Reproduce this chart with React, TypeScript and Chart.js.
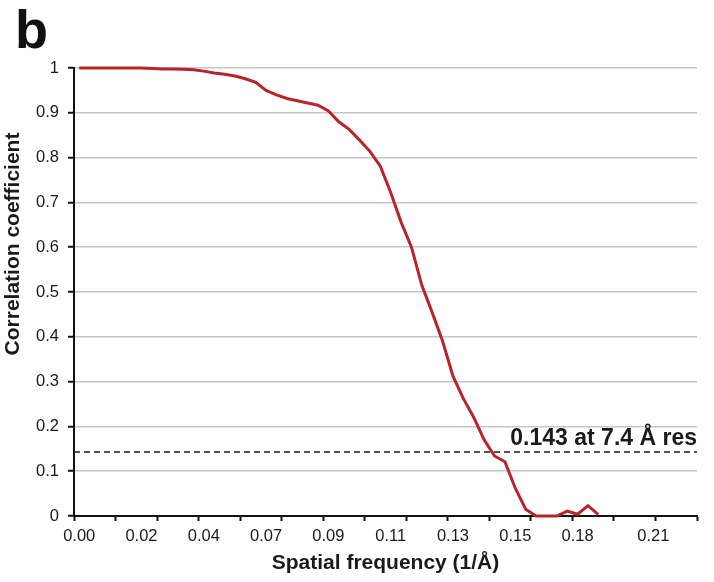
import { useEffect, useRef } from 'react';
import { Chart, registerables } from 'chart.js';

Chart.register(...registerables);

// Category (shell) index of each tick label and its spatial-frequency text
const frequencyLabels = ['0.00', '0.02', '0.04', '0.07', '0.09', '0.11', '0.13', '0.15', '0.18', '0.21'];
const labelIndex = [0, 6, 12, 18, 24, 30, 36, 42, 48, 55.3];

// Fourier shell correlation, one value per shell index 0..50
const correlation = [
  1.0, 1.0, 1.0, 1.0, 1.0, 1.0, 1.0, 0.999, 0.998, 0.998,
  0.997, 0.996, 0.993, 0.989, 0.986, 0.982, 0.976, 0.968, 0.95, 0.94,
  0.932, 0.927, 0.922, 0.917, 0.904, 0.88, 0.863, 0.839, 0.814, 0.781,
  0.722, 0.656, 0.6, 0.515, 0.454, 0.39, 0.312, 0.262, 0.22, 0.17,
  0.134, 0.121, 0.062, 0.015, 0.0, 0.0, 0.0, 0.011, 0.004, 0.023,
  0.003,
];

const categoryCount = 60;
const tickMarkEvery = 4;
const threshold = 0.143;
const thresholdLabel = '0.143 at 7.4 Å res';
const panelLetter = 'b';
const xTitle = 'Spatial frequency (1/Å)';
const yTitle = 'Correlation coefficient';

const FONT = "'Liberation Sans', Arial, Helvetica, sans-serif";

export default function App() {
  const ref = useRef<HTMLCanvasElement | null>(null);

  useEffect(() => {
    if (!ref.current) return;
    const axisMin = -0.5;
    const axisMax = categoryCount - 0.5;
    const markValues: number[] = [];
    for (let v = axisMin; v <= axisMax + 1e-9; v += tickMarkEvery) markValues.push(v);
    const isMark = (v: number) => markValues.some((m) => Math.abs(m - v) < 1e-6);

    const annotationPlugin = {
      id: 'fscAnnotations',
      afterDraw(chart: any) {
        const { ctx, chartArea, scales } = chart;
        const y = scales.y.getPixelForValue(threshold);
        ctx.save();
        ctx.fillStyle = '#1a1a1a';
        ctx.font = `bold 23px ${FONT}`;
        ctx.textAlign = 'right';
        ctx.textBaseline = 'alphabetic';
        ctx.fillText(thresholdLabel, chartArea.right, y - 6.5);

        ctx.font = `bold 54px ${FONT}`;
        ctx.textAlign = 'left';
        ctx.fillStyle = '#111';
        ctx.fillText(panelLetter, chartArea.left - 59, chartArea.top - 20);

        // rotated y-axis title
        ctx.save();
        ctx.translate(chartArea.left - 61, chartArea.top + 176);
        ctx.rotate(-Math.PI / 2);
        ctx.font = `bold 21px ${FONT}`;
        ctx.textAlign = 'center';
        ctx.textBaseline = 'middle';
        ctx.fillStyle = '#1a1a1a';
        ctx.fillText(yTitle, 0, 0);
        ctx.restore();
        ctx.restore();
      },
    };

    const chart = new Chart(ref.current, {
      type: 'line',
      data: {
        datasets: [
          {
            label: 'FSC',
            data: correlation.map((v, i) => ({ x: i, y: v })),
            borderColor: '#b5252b',
            borderWidth: 3,
            pointRadius: 0,
            tension: 0,
            clip: false as any,
          },
          {
            label: 'threshold',
            data: [
              { x: axisMin, y: threshold },
              { x: axisMax, y: threshold },
            ],
            borderColor: '#1a1a1a',
            borderWidth: 1.6,
            borderDash: [6, 4],
            pointRadius: 0,
          },
        ],
      },
      options: {
        animation: false,
        responsive: false,
        maintainAspectRatio: false,
        layout: { padding: { left: 0, right: 17, top: 68, bottom: 0 } },
        plugins: {
          legend: { display: false },
          tooltip: { enabled: false },
          title: { display: false },
        },
        scales: {
          x: {
            type: 'linear',
            min: axisMin,
            max: axisMax,
            afterBuildTicks(scale: any) {
              const vals = [...markValues, ...labelIndex].sort((a, b) => a - b);
              scale.ticks = vals.map((v) => ({ value: v }));
            },
            afterFit(scale: any) {
              scale.height = 66;
            },
            ticks: {
              autoSkip: false,
              maxRotation: 0,
              padding: 6,
              color: '#1a1a1a',
              font: { family: FONT, size: 16.5 },
              callback: (value: any) => {
                const k = labelIndex.findIndex((l) => Math.abs(l - Number(value)) < 1e-6);
                return k >= 0 ? frequencyLabels[k] : '';
              },
            },
            grid: {
              drawOnChartArea: false,
              drawTicks: true,
              tickLength: 5,
              tickWidth: 2,
              tickColor: (ctx: any) => (ctx.tick && isMark(ctx.tick.value) ? '#111' : 'rgba(0,0,0,0)'),
            },
            border: { display: true, color: '#111', width: 2 },
            title: {
              display: true,
              text: xTitle,
              color: '#1a1a1a',
              font: { family: FONT, size: 21, weight: 'bold' },
              padding: { top: 0, bottom: 6 },
            },
          },
          y: {
            type: 'linear',
            min: 0,
            max: 1,
            afterFit(scale: any) {
              scale.width = 74;
            },
            ticks: {
              stepSize: 0.1,
              padding: 9,
              color: '#1a1a1a',
              font: { family: FONT, size: 16.5 },
              callback: (value: any) => String(Math.round(Number(value) * 10) / 10),
            },
            grid: {
              color: '#c6c6c6',
              lineWidth: 1.5,
              tickLength: 6,
              tickWidth: 2,
              tickColor: '#111',
            },
            border: { display: true, color: '#111', width: 2 },
            title: { display: false },
          },
        },
      },
      plugins: [annotationPlugin],
    });

    return () => chart.destroy();
  }, []);

  return (
    <div style={{ position: 'fixed', left: 0, top: 0, width: 714, height: 582, background: '#fff' }}>
      <canvas ref={ref} width={714} height={582} style={{ display: 'block', width: 714, height: 582 }} />
    </div>
  );
}
